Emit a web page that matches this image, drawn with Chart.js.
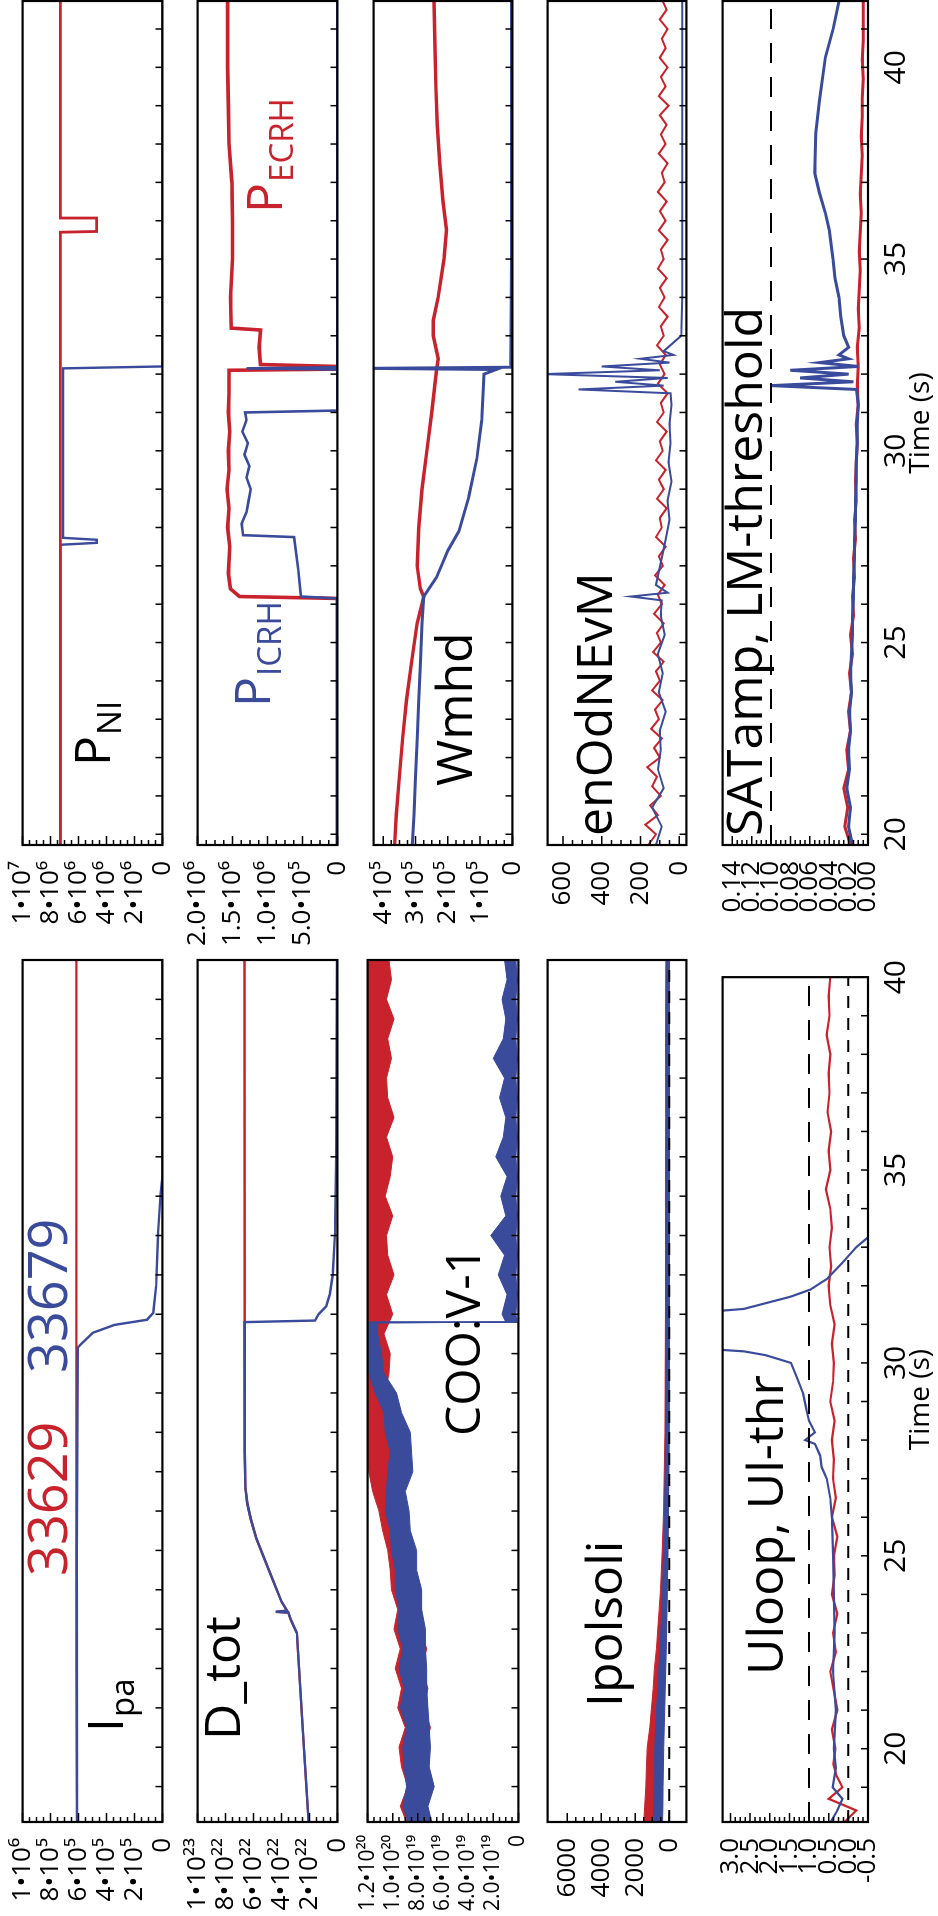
<!DOCTYPE html>
<html lang="en">
<head>
<meta charset="UTF-8">
<title>33629 / 33679 time traces</title>
<script src="https://cdn.jsdelivr.net/npm/chart.js"></script>
<style>
  html, body { margin: 0; padding: 0; background: #fff; overflow: hidden; }
  /* the figure is laid out landscape and turned a quarter turn to the left */
  #fig { position: absolute; left: 0; top: 0; width: 1916px; height: 938px;
         transform-origin: 0 0; transform: translateY(1916px) rotate(-90deg); }
  #fig canvas { position: absolute; }
</style>
</head>
<body>
<div id="fig"></div>
<script>
const RED = '#c8232c', BLUE = '#3a4b9b';
const FONT = "'Open Sans', 'DejaVu Sans', sans-serif";

// time axes
const timeLeft = [18.1, 40.0];
const timeRight = [19.72, 41.73];
const timeTicks = [20, 25, 30, 35, 40];

// ---- left column ----
const ipaTicks = [0, 2e5, 4e5, 6e5, 8e5, 1e6];
const ipaLabels = ['0', '2•10⁵', '4•10⁵', '6•10⁵', '8•10⁵', '1•10⁶'];
const ipaRedT = [18.1, 22, 26, 30, 34, 40];
const ipaRedV = [6.12e5, 6.14e5, 6.15e5, 6.15e5, 6.15e5, 6.15e5];
const ipaBlueT = [18.1, 25, 30.15, 30.25, 30.53, 30.73, 30.86, 31.04, 31.72, 32.99, 34.08, 34.5, 40];
const ipaBlueV = [6.1e5, 6.12e5, 6.06e5, 5.8e5, 4.97e5, 3.42e5, 1.1e5, 0.65e5, 0.45e5, 0.32e5, 0.13e5, 0, 0];

const dtotTicks = [0, 2e22, 4e22, 6e22, 8e22, 1e23];
const dtotLabels = ['0', '2•10²²', '4•10²²', '6•10²²', '8•10²²', '1•10²³'];
const dtotBlueT = [18.1, 20, 22.9, 23.25, 23.42, 23.44, 23.47, 23.7, 24.5, 25.3, 25.8, 26.2, 26.6, 27.5, 30.8, 30.84, 31.0, 31.2, 31.5, 32.0, 33.0, 35.0, 40];
const dtotBlueV = [2.06e22, 2.4e22, 2.9e22, 3.35e22, 3.5e22, 4.4e22, 3.6e22, 4.0e22, 4.9e22, 5.8e22, 6.2e22, 6.45e22, 6.58e22, 6.63e22, 6.65e22, 1.6e22, 1.35e22, 0.8e22, 0.55e22, 0.33e22, 0.18e22, 0.08e22, 0.03e22];
const dtotRedT = [18.1, 20, 22.9, 23.25, 23.42, 23.44, 23.47, 23.7, 24.5, 25.3, 25.8, 26.2, 26.6, 27.5, 40];
const dtotRedV = [2.06e22, 2.4e22, 2.9e22, 3.35e22, 3.5e22, 4.4e22, 3.6e22, 4.0e22, 4.9e22, 5.8e22, 6.2e22, 6.45e22, 6.58e22, 6.63e22, 6.65e22];

const cooTicks = [0, 2e19, 4e19, 6e19, 8e19, 1e20, 1.2e20];
const cooLabels = ['0', '2.0•10¹⁹', '4.0•10¹⁹', '6.0•10¹⁹', '8.0•10¹⁹', '1.0•10²⁰', '1.2•10²⁰'];
const cooRedT = [18.1, 18.5, 19, 19.5, 20, 20.5, 21, 21.5, 22, 22.5, 23, 23.5, 24, 24.5, 25, 25.5, 26, 26.5, 27, 27.5, 28, 28.5, 29, 29.5, 30, 30.5, 31, 31.5, 32, 32.5, 33, 33.5, 34, 34.5, 35, 35.5, 36, 36.5, 37, 37.5, 38, 38.5, 39, 39.5, 40];
const cooRedHi = [8.9e19, 9.4e19, 8.8e19, 9.3e19, 9.5e19, 9.0e19, 9.6e19, 9.3e19, 9.8e19, 9.4e19, 9.9e19, 9.6e19, 10.1e19, 10.2e19, 10.4e19, 10.8e19, 11.1e19, 11.6e19, 11.9e19, 12.3e19, 12.3e19, 12.3e19, 12.3e19, 12.3e19, 12.3e19, 12.3e19, 12.3e19, 12.3e19, 12.3e19, 12.3e19, 12.3e19, 12.3e19, 12.3e19, 12.3e19, 12.3e19, 12.3e19, 12.3e19, 12.3e19, 12.3e19, 12.3e19, 12.3e19, 12.3e19, 12.3e19, 12.3e19, 12.3e19];
const cooRedLo = [7.0e19, 7.4e19, 6.8e19, 7.2e19, 7.4e19, 7.0e19, 7.5e19, 7.2e19, 7.7e19, 7.3e19, 7.8e19, 7.7e19, 8.1e19, 8.2e19, 8.6e19, 8.8e19, 9.4e19, 9.5e19, 10.0e19, 10.1e19, 10.5e19, 10.2e19, 10.6e19, 10.3e19, 10.2e19, 10.7e19, 10.0e19, 10.5e19, 9.9e19, 10.4e19, 10.5e19, 10.0e19, 10.6e19, 10.2e19, 10.0e19, 10.5e19, 9.9e19, 10.4e19, 10.5e19, 10.1e19, 10.4e19, 9.9e19, 10.5e19, 10.1e19, 10.3e19];
const cooBlueT = [18.1, 18.5, 19, 19.5, 20, 20.5, 21, 21.5, 22, 22.5, 23, 23.5, 24, 24.5, 25, 25.5, 26, 26.5, 27, 27.5, 28, 28.5, 29, 29.5, 30, 30.5, 30.78, 30.8, 31, 31.5, 32, 32.5, 33, 33.5, 34, 34.5, 35, 35.5, 36, 36.5, 37, 37.5, 38, 38.5, 39, 39.5, 40];
const cooBlueHi = [8.8e19, 9.2e19, 8.9e19, 9.1e19, 9.2e19, 8.9e19, 9.4e19, 9.1e19, 9.5e19, 9.2e19, 9.6e19, 9.5e19, 9.8e19, 9.8e19, 10.1e19, 10.2e19, 10.6e19, 10.5e19, 10.4e19, 10.2e19, 10.6e19, 10.7e19, 11.4e19, 11.9e19, 12.2e19, 12.2e19, 12.2e19, 1.0e19, 1.3e19, 0.9e19, 1.6e19, 1.1e19, 2.2e19, 1.0e19, 1.4e19, 0.9e19, 1.8e19, 1.2e19, 1.0e19, 1.5e19, 1.1e19, 2.0e19, 1.2e19, 1.0e19, 1.3e19, 0.9e19, 1.1e19];
const cooBlueLo = [6.9e19, 7.2e19, 6.7e19, 7.1e19, 7.0e19, 7.1e19, 7.2e19, 7.3e19, 7.3e19, 7.4e19, 7.4e19, 7.7e19, 7.7e19, 8.1e19, 8.1e19, 8.6e19, 8.7e19, 9.0e19, 8.4e19, 8.5e19, 8.6e19, 9.3e19, 9.7e19, 10.7e19, 10.9e19, 11.2e19, 11.2e19, 0.1e19, 0.2e19, 0.1e19, 0.2e19, 0.1e19, 0.2e19, 0.1e19, 0.2e19, 0.1e19, 0.2e19, 0.1e19, 0.2e19, 0.1e19, 0.2e19, 0.1e19, 0.2e19, 0.1e19, 0.2e19, 0.1e19, 0.2e19];

const ipolTicks = [0, 2000, 4000, 6000];
const ipolLabels = ['0', '2000', '4000', '6000'];
const ipolZero = 0;
const ipolT = [18.1, 18.5, 19, 19.5, 20, 20.5, 21, 21.5, 22, 22.5, 23, 23.5, 24, 25, 26, 27, 28, 30, 32, 34, 36, 38, 40];
const ipolRedHi = [1500, 1450, 1380, 1350, 1300, 1150, 1050, 950, 880, 760, 680, 600, 520, 420, 340, 300, 260, 240, 220, 230, 210, 220, 200];
const ipolRedLo = [500, 480, 450, 420, 400, 360, 320, 280, 250, 220, 190, 160, 140, 100, 60, 40, 20, 0, 0, 0, 0, 0, 0];
const ipolBlueHi = [950, 920, 900, 880, 860, 800, 750, 680, 620, 560, 500, 450, 400, 330, 280, 250, 230, 220, 210, 210, 200, 200, 190];
const ipolBlueLo = [400, 380, 370, 350, 330, 300, 270, 240, 210, 180, 160, 140, 120, 80, 50, 30, 10, 0, -10, 0, -10, 0, 0];

const uTicks = [-0.5, 0, 0.5, 1, 1.5, 2, 2.5, 3];
const uLabels = ['-0.5', '0.0', '0.5', '1.0', '1.5', '2.0', '2.5', '3.0'];
const uThrHigh = 1.0, uThrLow = 0.0;
const uRedT = [18.1, 18.4, 18.7, 19.0, 19.3, 19.6, 20, 20.5, 21, 21.5, 22, 22.5, 23, 23.5, 24, 24.5, 25, 25.5, 26, 26.5, 27, 27.5, 28, 28.5, 29, 29.5, 30, 30.5, 31, 31.5, 32, 32.5, 33, 33.5, 34, 34.5, 35, 35.5, 36, 36.5, 37, 37.5, 38, 38.5, 39, 39.5, 40];
const uRedV = [0.1, -0.2, 0.5, 0.15, 0.3, 0.38, 0.33, 0.42, 0.28, 0.37, 0.46, 0.32, 0.39, 0.28, 0.42, 0.35, 0.37, 0.28, 0.42, 0.32, 0.39, 0.37, 0.42, 0.35, 0.46, 0.39, 0.37, 0.42, 0.35, 0.46, 0.5, 0.44, 0.48, 0.42, 0.46, 0.57, 0.46, 0.5, 0.44, 0.53, 0.48, 0.5, 0.46, 0.55, 0.48, 0.5, 0.46];
const uBlueT = [18.1, 18.4, 18.7, 19.0, 19.5, 20, 21, 22, 23, 24, 25, 26, 26.5, 27, 27.3, 27.6, 27.9, 28.0, 28.2, 28.5, 28.8, 29.2, 29.6, 30.0, 30.2, 30.3, 30.35, 30.9, 31.34, 31.4, 31.72, 31.9, 32.18, 32.6, 33.0, 33.3];
const uBlueV = [0.45, 0.28, 0.15, 0.4, 0.32, 0.37, 0.32, 0.39, 0.35, 0.37, 0.39, 0.42, 0.46, 0.55, 0.68, 0.72, 0.85, 1.1, 0.85, 1.0, 1.07, 1.15, 1.3, 1.46, 2.1, 2.66, 3.4, null, 3.4, 2.66, 1.46, 0.97, 0.54, 0.15, -0.2, -0.55];

// ---- right column ----
const pniTicks = [0, 2e6, 4e6, 6e6, 8e6, 1e7];
const pniLabels = ['0', '2•10⁶', '4•10⁶', '6•10⁶', '8•10⁶', '1•10⁷'];
const pniRedT = [19.72, 30, 35.7, 35.72, 36.05, 36.07, 41.73];
const pniRedV = [7.3e6, 7.3e6, 7.3e6, 4.7e6, 4.7e6, 7.3e6, 7.3e6];
const pniBlueT = [19.72, 27.55, 27.6, 27.68, 27.73, 32.15, 32.2, 41.73];
const pniBlueV = [7.3e6, 7.3e6, 4.7e6, 4.7e6, 7.1e6, 7.1e6, 0, 0];

const pecTicks = [0, 5e5, 1e6, 1.5e6, 2e6];
const pecLabels = ['0', '5.0•10⁵', '1.0•10⁶', '1.5•10⁶', '2.0•10⁶'];
const pecRedT = [19.72, 26.15, 26.2, 26.4, 26.8, 27.5, 28.0, 28.5, 29.0, 29.5, 30.0, 30.5, 31.0, 31.5, 32.1, 32.13, 32.2, 32.25, 32.7, 33.15, 33.2, 34, 35, 36, 37, 38, 39, 40, 41, 41.73];
const pecRedV = [0, 0, 1.4e6, 1.53e6, 1.56e6, 1.54e6, 1.57e6, 1.55e6, 1.58e6, 1.55e6, 1.56e6, 1.54e6, 1.56e6, 1.55e6, 1.55e6, 0, 0, 1.1e6, 1.12e6, 1.1e6, 1.52e6, 1.53e6, 1.5e6, 1.5e6, 1.51e6, 1.55e6, 1.56e6, 1.57e6, 1.57e6, 1.57e6];
const picBlueT = [19.72, 26.15, 26.2, 26.9, 27.75, 27.8, 28.1, 28.4, 28.7, 29.0, 29.3, 29.6, 29.9, 30.2, 30.5, 30.8, 31.0, 31.05, 32.12, 32.15, 32.18, 41.73];
const picBlueV = [0, 0, 0.52e6, 0.56e6, 0.62e6, 1.35e6, 1.37e6, 1.3e6, 1.27e6, 1.24e6, 1.3e6, 1.26e6, 1.33e6, 1.28e6, 1.36e6, 1.3e6, 1.32e6, 0, 0, 1.3e6, 0, 0];

const wTicks = [0, 1e5, 2e5, 3e5, 4e5];
const wLabels = ['0', '1•10⁵', '2•10⁵', '3•10⁵', '4•10⁵'];
const wRedT = [19.72, 20.5, 21.5, 22.5, 23.5, 24.5, 25.5, 26.0, 26.2, 26.4, 27.0, 28.0, 29.0, 30.0, 31.0, 32.1, 32.4, 33.0, 33.4, 34, 35, 35.76, 36.5, 37.5, 38.5, 39.5, 40.5, 41.73];
const wRedV = [3.65e5, 3.6e5, 3.5e5, 3.4e5, 3.28e5, 3.12e5, 2.95e5, 2.8e5, 2.75e5, 2.85e5, 2.95e5, 2.9e5, 2.8e5, 2.65e5, 2.5e5, 2.35e5, 2.3e5, 2.45e5, 2.45e5, 2.3e5, 2.12e5, 2.04e5, 2.15e5, 2.25e5, 2.33e5, 2.37e5, 2.4e5, 2.43e5];
const wBlueT = [19.72, 20.5, 21.5, 22.5, 23.5, 24.5, 25.5, 26.2, 26.7, 27.4, 27.9, 28.8, 29.8, 30.8, 31.6, 32.0, 32.12, 32.15, 32.18, 32.25, 33, 35, 38, 41.73];
const wBlueV = [3.1e5, 3.05e5, 3.0e5, 2.95e5, 2.9e5, 2.85e5, 2.8e5, 2.75e5, 2.35e5, 2.0e5, 1.66e5, 1.35e5, 1.1e5, 0.95e5, 0.9e5, 0.88e5, 0.5e5, 4.5e5, 0, 0.05e5, 0.04e5, 0.03e5, 0.03e5, 0.03e5];

const neTicks = [0, 200, 400, 600];
const neLabels = ['0', '200', '400', '600'];
const neRedT = [19.72, 20, 20.25, 20.5, 20.75, 21, 21.25, 21.5, 21.75, 22,
  22.25, 22.5, 22.75, 23, 23.25, 23.5, 23.75, 24, 24.25, 24.5, 24.75, 25,
  25.25, 25.5, 25.75, 26, 26.25, 26.5, 26.75, 27, 27.25, 27.5, 27.75, 28, 28.25, 28.5, 28.75, 29, 29.25, 29.5, 29.75, 30,
  30.25, 30.5, 30.75, 31, 31.25, 31.5, 31.75, 32, 32.25, 32.5, 32.75, 33, 33.25, 33.5, 33.75, 34, 34.25, 34.5, 34.75, 35,
  35.25, 35.5, 35.75, 36, 36.25, 36.5, 36.75, 37, 37.25, 37.5, 37.75, 38, 38.25, 38.5, 38.75, 39, 39.25, 39.5, 39.75, 40, 40.25, 40.5, 40.75, 41, 41.25, 41.5,
  41.73];
const neRedV = [160, 120, 175, 110, 150, 95, 140, 115, 165, 100,
  130, 90, 145, 105, 125, 85, 140, 100, 120, 80, 135, 95,
  115, 80, 130, 90, 110, 75, 125, 85, 105, 70, 120, 90, 100, 65, 115, 80, 105, 70, 120, 85,
  100, 65, 115, 80, 95, 60, 110, 75, 100, 70, 115, 80, 95, 60, 105, 75, 100, 65, 110, 80,
  95, 60, 105, 70, 100, 65, 110, 75, 90, 60, 105, 70, 95, 65, 100, 55, 105, 70, 95, 60, 100, 70, 90, 60, 100, 65,
  85];
const neBlueT = [19.72, 20.2, 20.7, 21.2, 21.7, 22.2, 22.7, 23.2, 23.7, 24.2, 24.7, 25.2, 25.7, 26.1, 26.2, 26.3, 26.5, 27.2, 27.7, 28.2, 28.7, 29.2, 29.7, 30.2, 30.7, 31.2, 31.5, 31.6, 31.7, 31.8, 31.9, 32.0, 32.1, 32.2, 32.3, 32.4, 32.5, 32.6, 33, 34, 36, 38, 40, 41.73];
const neBlueV = [120, 90, 140, 80, 110, 95, 100, 70, 105, 85, 110, 75, 95, 90, 250, 60, 120, 90, 70, 50, 60, 40, 55, 45, 50, 40, 45, 520, 80, 330, 60, 700, 100, 400, 50, 200, 30, 80, -10, -15, -15, -15, -15, -15];

const satTicks = [0, 0.02, 0.04, 0.06, 0.08, 0.10, 0.12, 0.14];
const satLabels = ['0.00', '0.02', '0.04', '0.06', '0.08', '0.10', '0.12', '0.14'];
const satThr = 0.10;
const satRedT = [19.72, 20.2, 20.7, 21.2, 21.7, 22.2, 22.7, 23.2, 23.7, 24.2, 24.7, 25.2, 25.7, 26.2, 26.7, 27.2, 27.7, 28.2, 28.7, 29.2, 29.7, 30.2, 30.7, 31.2, 31.7, 32.2, 32.7, 33.2, 33.7, 34.2, 34.7, 35.2, 35.7, 36.2, 36.7, 37.2, 37.7, 38.2, 38.7, 39.2, 39.7, 40.2, 40.7, 41.2, 41.73];
const satRedV = [0.018, 0.024, 0.021, 0.025, 0.02, 0.022, 0.018, 0.02, 0.017, 0.019, 0.016, 0.018, 0.015, 0.016, 0.014, 0.015, 0.013, 0.014, 0.012, 0.013, 0.012, 0.011, 0.012, 0.01, 0.011, 0.01, 0.011, 0.009, 0.01, 0.009, 0.008, 0.009, 0.008, 0.007, 0.008, 0.007, 0.006, 0.007, 0.006, 0.006, 0.005, 0.006, 0.005, 0.005, 0.005];
const satBlueT = [19.72, 20.2, 20.7, 21.2, 21.7, 22.2, 22.7, 23.2, 23.7, 24.2, 24.7, 25.2, 25.7, 26.2, 26.7, 27.2, 27.7, 28.2, 28.7, 29.2, 29.7, 30.2, 30.7, 31.2, 31.6, 31.7, 31.8, 31.9, 32.0, 32.1, 32.2, 32.3, 32.4, 32.5, 32.7, 33.0, 33.5, 34.0, 34.5, 35.0, 35.76, 36.2, 36.72, 37.24, 38.28, 39.14, 40.26, 41.0, 41.73];
const satBlueV = [0.016, 0.02, 0.018, 0.022, 0.019, 0.02, 0.018, 0.019, 0.017, 0.018, 0.017, 0.016, 0.016, 0.015, 0.015, 0.014, 0.014, 0.013, 0.013, 0.012, 0.012, 0.011, 0.011, 0.01, 0.012, 0.1, 0.015, 0.07, 0.02, 0.08, 0.01, 0.05, 0.02, 0.03, 0.02, 0.025, 0.028, 0.03, 0.034, 0.036, 0.04, 0.044, 0.05, 0.055, 0.054, 0.05, 0.044, 0.036, 0.03];

// ---- layout of the landscape figure ----
const ROWS = [[15, 170], [190, 345], [366, 520], [540, 694], [715, 868]];
const COLS = [{ x0: 94, x1: 956, time: timeLeft }, { x0: 1071, x1: 1915, time: timeRight }];
const LW = 110, PT = 16, PB = 16, XH = 70;

const pts = (T, V) => T.map((t, i) => ({ x: t, y: V[i] }));
const line = (T, V, color, order, w = 2.4) => ({ data: pts(T, V), borderColor: color, borderWidth: w, order, spanGaps: false });
const band = (T, hi, lo, color, order) => [
  { data: pts(T, hi), borderColor: color, borderWidth: 1, backgroundColor: color, fill: '+1', order },
  { data: pts(T, lo), borderColor: color, borderWidth: 1, order }
];
const dash = (range, v, pattern) => ({ data: [{ x: range[0], y: v }, { x: range[1], y: v }], borderColor: '#000', borderWidth: 2, borderDash: pattern, order: 0 });

const panels = [
  { col: 0, row: 0, yMin: 0, yMax: 1e6, ticks: ipaTicks, labels: ipaLabels,
    sets: [line(ipaRedT, ipaRedV, RED, 2), line(ipaBlueT, ipaBlueV, BLUE, 1)],
    notes: [{ t: '33629', color: RED, X: 340, Y: 67, size: 54 }, { t: '33679', color: BLUE, X: 543, Y: 67, size: 54 },
            { t: 'I', sub: 'pa', color: '#000', X: 184, Y: 123, size: 50 }] },
  { col: 0, row: 1, yMin: 0, yMax: 1e23, ticks: dtotTicks, labels: dtotLabels,
    sets: [line(dtotRedT, dtotRedV, RED, 2), line(dtotBlueT, dtotBlueV, BLUE, 1)],
    notes: [{ t: 'D_tot', color: '#000', X: 176, Y: 240, size: 50 }] },
  { col: 0, row: 2, yMin: 0, yMax: 1.2e20, ticks: cooTicks, labels: cooLabels, fontSize: 21,
    sets: [...band(cooRedT, cooRedHi, cooRedLo, RED, 2), ...band(cooBlueT, cooBlueHi, cooBlueLo, BLUE, 1)],
    notes: [{ t: 'COO:V-1', color: '#000', X: 480, Y: 480, size: 48 }] },
  { col: 0, row: 3, yMin: -1000, yMax: 7150, ticks: ipolTicks, labels: ipolLabels,
    sets: [...band(ipolT, ipolRedHi, ipolRedLo, RED, 2), ...band(ipolT, ipolBlueHi, ipolBlueLo, BLUE, 1), dash(timeLeft, ipolZero, [12, 9])],
    notes: [{ t: 'Ipolsoli', color: '#000', X: 209, Y: 622, size: 50 }] },
  { col: 0, row: 4, yMin: -0.5, yMax: 3.2, ticks: uTicks, labels: uLabels,
    sets: [line(uRedT, uRedV, RED, 2, 2.2), line(uBlueT, uBlueV, BLUE, 1, 2.2), dash(timeLeft, uThrHigh, [20, 14]), dash(timeLeft, uThrLow, [12, 10])],
    notes: [{ t: 'Uloop, Ul-thr', color: '#000', X: 241, Y: 783, size: 50 }] },
  { col: 1, row: 0, yMin: 0, yMax: 1e7, ticks: pniTicks, labels: pniLabels,
    sets: [line(pniBlueT, pniBlueV, BLUE, 2), line(pniRedT, pniRedV, RED, 1, 2.8)],
    notes: [{ t: 'P', sub: 'NI', color: '#000', X: 1150, Y: 110, size: 50 }] },
  { col: 1, row: 1, yMin: 0, yMax: 2e6, ticks: pecTicks, labels: pecLabels,
    sets: [line(pecRedT, pecRedV, RED, 2, 3.6), line(picBlueT, picBlueV, BLUE, 1, 2.6)],
    notes: [{ t: 'P', sub: 'ICRH', color: BLUE, X: 1209, Y: 270, size: 50 }, { t: 'P', sub: 'ECRH', color: RED, X: 1703, Y: 282, size: 50 }] },
  { col: 1, row: 2, yMin: 0, yMax: 4.3e5, ticks: wTicks, labels: wLabels,
    sets: [line(wRedT, wRedV, RED, 2, 3.4), line(wBlueT, wBlueV, BLUE, 1, 3)],
    notes: [{ t: 'Wmhd', color: '#000', X: 1130, Y: 472, size: 50 }] },
  { col: 1, row: 3, yMin: -37, yMax: 679, ticks: neTicks, labels: neLabels,
    sets: [line(neRedT, neRedV, RED, 2, 2), line(neBlueT, neBlueV, BLUE, 1, 2)],
    notes: [{ t: 'enOdNEvM', color: '#000', X: 1080, Y: 612, size: 50 }] },
  { col: 1, row: 4, yMin: 0, yMax: 0.15, ticks: satTicks, labels: satLabels,
    sets: [line(satRedT, satRedV, RED, 2, 3), line(satBlueT, satBlueV, BLUE, 1, 3), dash(timeRight, satThr, [20, 14])],
    notes: [{ t: 'SATamp, LM-threshold', color: '#000', X: 1080, Y: 762, size: 50 }] }
];

// box, inward ticks and panel names
const framePlugin = {
  id: 'frame',
  afterDatasetsDraw(chart, args, opts) {
    const { ctx, chartArea: a, scales: { x, y } } = chart;
    ctx.save();
    ctx.strokeStyle = '#000';
    ctx.lineWidth = 1.5;
    ctx.beginPath();
    for (let t = Math.ceil(x.min); t <= x.max; t++) {
      const px = x.getPixelForValue(t);
      ctx.moveTo(px, a.bottom); ctx.lineTo(px, a.bottom - 7);
    }
    const tk = opts.ticks;
    for (let i = 0; i < tk.length; i++) {
      const py = y.getPixelForValue(tk[i]);
      ctx.moveTo(a.left, py); ctx.lineTo(a.left + 9, py);
      if (i < tk.length - 1) {
        const step = (tk[i + 1] - tk[i]) / 4;
        for (let k = 1; k < 4; k++) {
          const pm = y.getPixelForValue(tk[i] + k * step);
          ctx.moveTo(a.left, pm); ctx.lineTo(a.left + 5, pm);
        }
      }
    }
    ctx.stroke();
    ctx.lineWidth = 2.2;
    ctx.strokeRect(a.left, a.top, a.right - a.left, a.bottom - a.top);
    for (const n of opts.notes) {
      const bx = n.X - opts.left, by = n.Y - opts.top;
      ctx.fillStyle = n.color;
      ctx.font = `${n.size}px ${FONT}`;
      ctx.fillText(n.t, bx, by);
      if (n.sub) {
        const w = ctx.measureText(n.t).width;
        ctx.font = `${Math.round(n.size * 0.66)}px ${FONT}`;
        ctx.fillText(n.sub, bx + w + 1, by + n.size * 0.22);
      }
    }
    ctx.restore();
  }
};

const fig = document.getElementById('fig');
const xFont = { family: FONT, size: 30 };

panels.forEach(p => {
  const col = COLS[p.col], [y0, y1] = ROWS[p.row];
  const last = p.row === ROWS.length - 1;
  const left = col.x0 - LW, top = y0 - PT;
  const width = LW + (col.x1 - col.x0) + 2;
  const height = PT + (y1 - y0) + (last ? XH + 4 : PB);
  const cv = document.createElement('canvas');
  cv.width = width; cv.height = height;
  cv.style.left = left + 'px'; cv.style.top = top + 'px';
  cv.style.width = width + 'px'; cv.style.height = height + 'px';
  fig.appendChild(cv);

  new Chart(cv, {
    type: 'line',
    data: { datasets: p.sets },
    options: {
      responsive: false, animation: false, events: [],
      devicePixelRatio: 1,
      layout: { autoPadding: false, padding: { left: 0, right: 2, top: PT, bottom: last ? 4 : PB } },
      plugins: { legend: { display: false }, tooltip: { enabled: false },
                 frame: { ticks: p.ticks, notes: p.notes, left, top } },
      elements: { point: { radius: 0 }, line: { tension: 0 } },
      scales: {
        x: {
          type: 'linear', min: col.time[0], max: col.time[1],
          grid: { display: false }, border: { display: false },
          afterFit: s => { s.height = last ? XH : 0; },
          afterBuildTicks: s => { s.ticks = timeTicks.map(v => ({ value: v })); },
          ticks: { display: last, font: xFont, color: '#000', padding: 2, maxRotation: 0, autoSkip: false, callback: v => String(v) },
          title: { display: last, text: 'Time (s)', font: { family: FONT, size: 28 }, color: '#000', padding: 0 }
        },
        y: {
          type: 'linear', min: p.yMin, max: p.yMax,
          grid: { display: false }, border: { display: false },
          afterFit: s => { s.width = LW; },
          afterBuildTicks: s => { s.ticks = p.ticks.map(v => ({ value: v })); },
          ticks: { font: { family: FONT, size: p.fontSize || 26 }, color: '#000', padding: p.fontSize ? 5 : 8, autoSkip: false, callback: (v, i) => p.labels[i] }
        }
      }
    },
    plugins: [framePlugin]
  });
});
</script>
</body>
</html>
